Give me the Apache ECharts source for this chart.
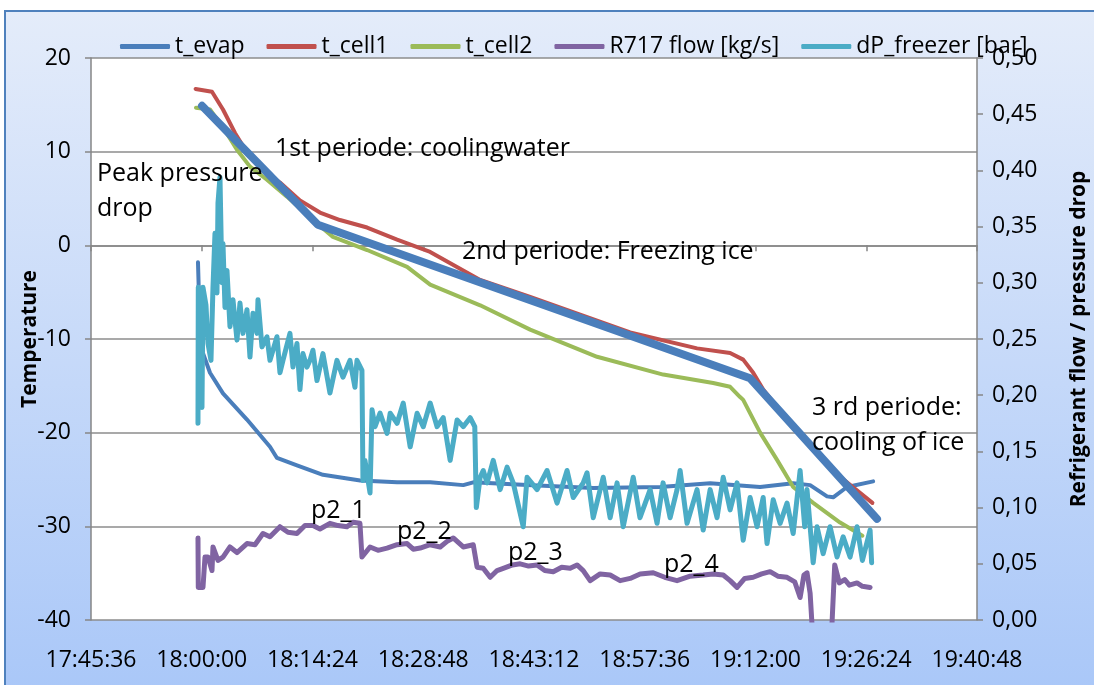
<!DOCTYPE html>
<html>
<head>
<meta charset="utf-8">
<script src="https://cdn.jsdelivr.net/npm/echarts@6/dist/echarts.min.js"></script>
<style>
  html, body { margin: 0; padding: 0; background: #fff; }
  #frame {
    position: absolute; left: 4px; top: 10px; width: 1100px; height: 690px;
    border: 2px solid #4F81BD; box-sizing: border-box;
    background: linear-gradient(to bottom, #E4ECFA 0%, #A9C7F8 100%);
  }
  #chart { position: absolute; left: 0; top: 0; width: 1094px; height: 685px; }
</style>
</head>
<body>
<div id="frame"></div>
<div id="chart"></div>
<script>
// time is minutes after 18:00:00
const evapMin = [-0.49, -0.35, -0.1, 0.16, 1.07, 2.76, 5.88, 8.87, 9.78, 12.38, 15.76, 20.6, 25.4, 29.7, 34.0, 35.3, 42.3, 50.9, 59.6, 66.1, 72.6, 76.9, 79.1, 81.3, 82.1, 83.9, 87.3];
const evapVal = [-1.8, -5.8, -10.1, -11.5, -13.6, -15.8, -18.6, -21.5, -22.7, -23.5, -24.5, -25.1, -25.3, -25.3, -25.6, -25.3, -25.6, -25.9, -25.8, -25.4, -25.8, -25.4, -25.6, -26.8, -26.9, -25.8, -25.2];

const cell1Min = [-0.8, 1.33, 2.76, 4.32, 5.88, 7.96, 10.17, 12.77, 15.37, 17.97, 21.5, 25.4, 29.7, 36.2, 42.7, 49.2, 55.7, 64.4, 68.7, 70.4, 71.7, 73.0, 76.1, 79.1, 83.0, 87.2];
const cell1Val = [16.7, 16.4, 14.5, 12.0, 9.9, 8.0, 6.7, 4.8, 3.5, 2.7, 1.9, 0.6, -0.7, -3.7, -5.5, -7.4, -9.3, -11.0, -11.5, -12.2, -13.6, -15.4, -18.6, -21.1, -24.7, -27.5];

const cell2Min = [-0.75, 1.07, 2.76, 4.58, 6.27, 8.48, 11.08, 14.46, 17.06, 21.5, 26.7, 29.7, 36.2, 42.7, 51.4, 60.0, 66.5, 68.7, 70.0, 70.4, 72.6, 74.8, 76.9, 79.5, 83.0, 85.9];
const cell2Val = [14.7, 14.5, 12.6, 10.2, 8.4, 7.0, 5.2, 2.7, 0.9, -0.5, -2.3, -4.2, -6.4, -9.0, -11.9, -13.8, -14.7, -15.1, -16.2, -16.5, -20.0, -22.9, -25.8, -27.5, -29.6, -31.0];

// straight thick guide line drawn over the temperatures
const trendMin = [0.03, 15.1, 71.3, 87.8];
const trendVal = [14.9, 2.2, -14.2, -29.2];

const flowMin = [-0.49, -0.45, 0.16, 0.42, 0.81, 1.33, 1.46, 2.11, 2.76, 3.67, 4.58, 5.88, 6.92, 7.96, 8.87, 10.17, 11.21, 12.38, 13.42, 14.46, 15.37, 16.67, 17.71, 18.88, 19.66, 20.57, 20.83, 21.88, 22.92, 24.09, 25.4, 26.7, 27.5, 28.4, 29.7, 31.0, 31.9, 32.7, 34.0, 35.3, 35.8, 36.6, 37.5, 38.4, 39.2, 40.4, 41.4, 42.5, 43.6, 44.6, 45.7, 46.8, 47.9, 48.8, 49.6, 50.5, 51.8, 53.1, 54.4, 55.7, 57.0, 58.7, 60.2, 61.8, 63.5, 65.2, 66.5, 67.8, 68.7, 69.6, 70.6, 71.7, 72.8, 73.9, 74.9, 76.1, 77.1, 77.8, 78.3, 78.7, 79.1, 79.4, 81.9, 82.3, 82.9, 83.6, 84.2, 85.2, 85.9, 86.9];
const flowVal = [0.073, 0.029, 0.029, 0.056, 0.056, 0.044, 0.065, 0.053, 0.056, 0.065, 0.060, 0.068, 0.067, 0.077, 0.074, 0.083, 0.078, 0.077, 0.084, 0.084, 0.081, 0.086, 0.084, 0.083, 0.087, 0.086, 0.056, 0.065, 0.062, 0.064, 0.067, 0.068, 0.063, 0.064, 0.067, 0.065, 0.070, 0.073, 0.065, 0.067, 0.047, 0.046, 0.038, 0.044, 0.046, 0.049, 0.050, 0.048, 0.049, 0.044, 0.043, 0.047, 0.046, 0.049, 0.044, 0.035, 0.041, 0.040, 0.035, 0.037, 0.041, 0.042, 0.038, 0.035, 0.039, 0.040, 0.041, 0.040, 0.035, 0.029, 0.037, 0.038, 0.041, 0.043, 0.039, 0.038, 0.034, 0.020, 0.040, 0.042, 0.024, -0.01, -0.01, 0.049, 0.033, 0.036, 0.031, 0.033, 0.030, 0.029];

const dpMin = [-0.49, -0.45, 0.03, 0.16, 0.55, 0.81, 1.20, 1.46, 1.72, 1.98, 2.11, 2.37, 2.63, 2.76, 3.02, 3.28, 3.67, 4.06, 4.58, 4.97, 5.36, 5.88, 6.27, 6.66, 7.18, 7.31, 7.83, 8.48, 8.87, 9.78, 10.17, 10.56, 11.47, 11.86, 12.38, 12.77, 13.16, 13.68, 14.07, 14.46, 14.98, 15.76, 16.67, 17.58, 18.36, 19.27, 19.92, 20.18, 20.83, 20.96, 21.22, 21.88, 22.14, 22.53, 23.18, 24.09, 24.5, 25.4, 26.2, 27.1, 28.0, 28.8, 29.7, 30.6, 31.4, 32.3, 33.2, 34.0, 34.9, 35.5, 35.7, 36.2, 36.6, 37.1, 37.9, 38.8, 39.7, 40.5, 41.8, 42.3, 43.6, 44.9, 46.2, 47.5, 48.3, 49.6, 50.1, 50.9, 52.2, 53.1, 54.0, 54.8, 56.1, 56.98, 58.3, 59.2, 59.98, 60.9, 61.8, 62.2, 63.1, 64.4, 65.2, 66.1, 67.0, 67.8, 68.7, 69.6, 70.4, 71.3, 72.2, 73.0, 73.5, 74.3, 75.2, 76.1, 76.9, 77.8, 78.4, 78.7, 79.5, 80.0, 80.8, 81.7, 82.6, 83.4, 84.3, 85.2, 85.9, 86.9, 87.1];
const dpVal = [0.175, 0.296, 0.189, 0.296, 0.280, 0.246, 0.231, 0.296, 0.344, 0.291, 0.371, 0.394, 0.300, 0.335, 0.278, 0.311, 0.261, 0.285, 0.249, 0.282, 0.255, 0.276, 0.234, 0.273, 0.255, 0.285, 0.243, 0.252, 0.231, 0.252, 0.220, 0.231, 0.255, 0.225, 0.246, 0.205, 0.237, 0.225, 0.231, 0.240, 0.213, 0.237, 0.202, 0.231, 0.216, 0.231, 0.207, 0.231, 0.222, 0.124, 0.142, 0.113, 0.187, 0.172, 0.184, 0.166, 0.184, 0.175, 0.193, 0.154, 0.184, 0.172, 0.193, 0.172, 0.180, 0.142, 0.178, 0.172, 0.180, 0.172, 0.100, 0.127, 0.133, 0.122, 0.142, 0.116, 0.136, 0.122, 0.083, 0.127, 0.116, 0.133, 0.104, 0.133, 0.109, 0.122, 0.131, 0.091, 0.127, 0.091, 0.122, 0.083, 0.127, 0.091, 0.116, 0.086, 0.122, 0.091, 0.116, 0.133, 0.086, 0.116, 0.080, 0.116, 0.091, 0.127, 0.098, 0.122, 0.071, 0.109, 0.083, 0.109, 0.068, 0.107, 0.086, 0.104, 0.077, 0.133, 0.083, 0.116, 0.051, 0.083, 0.059, 0.083, 0.056, 0.074, 0.056, 0.083, 0.053, 0.080, 0.051];

const seriesNames = ['t_evap', 't_cell1', 't_cell2', 'R717 flow [kg/s]', 'dP_freezer [bar]'];
const xStart = 63936;   // 17:45:36
const xEnd = 70848;     // 19:40:48
const xStep = 864;      // 0:14:24

const FONT = '"Open Sans", "Noto Sans", sans-serif';

function pts(mins, vals) {
  return mins.map((m, i) => [64800 + m * 60, vals[i]]);
}
function hms(s) {
  const h = Math.floor(s / 3600), m = Math.floor((s % 3600) / 60), sec = Math.round(s % 60);
  return h + ':' + String(m).padStart(2, '0') + ':' + String(sec).padStart(2, '0');
}
function lineSeries(name, data, color, width, yIdx) {
  return {
    name: name, type: 'line', data: data, yAxisIndex: yIdx || 0,
    showSymbol: false, symbol: 'none', smooth: false,
    lineStyle: { color: color, width: width, cap: 'round', join: 'round' },
    itemStyle: { color: color }
  };
}
function txt(x, y, s) {
  return { type: 'text', left: x, top: y, style: { text: s, font: '25px ' + FONT, fill: '#000' }, z: 50 };
}

var myChart = echarts.init(document.getElementById('chart'));
var option = {
  animation: false,
  backgroundColor: 'transparent',
  textStyle: { fontFamily: FONT },
  grid: { left: 91, right: 117, top: 58, bottom: 65, show: true, backgroundColor: '#fff', borderWidth: 0,
    containLabel: false, outerBoundsMode: 'none' },
  legend: {
    data: seriesNames,
    left: 115, top: 30,
    icon: 'roundRect', itemWidth: 50, itemHeight: 5, itemGap: 22,
    textStyle: { fontSize: 23, color: '#000', fontFamily: FONT }
  },
  xAxis: {
    type: 'value', min: xStart, max: xEnd, interval: xStep,
    axisLine: { show: true, lineStyle: { color: '#868686', width: 1.5 } },
    axisTick: { show: true, length: 6, lineStyle: { color: '#868686', width: 1.5 } },
    splitLine: { show: false },
    axisLabel: { formatter: hms, fontSize: 23, color: '#000', margin: 29, fontFamily: FONT,
      showMinLabel: true, showMaxLabel: true, hideOverlap: false }
  },
  yAxis: [
    {
      type: 'value', min: -40, max: 20, interval: 10,
      name: 'Temperature', nameLocation: 'middle', nameGap: 50, nameRotate: 90, nameMoveOverlap: false,
      nameTextStyle: { fontSize: 21, fontWeight: 'bold', color: '#000', fontFamily: FONT },
      axisLine: { show: true, lineStyle: { color: '#868686', width: 1.5 } },
      axisTick: { show: true, length: 6, lineStyle: { color: '#868686', width: 1.5 } },
      splitLine: { show: true, lineStyle: { color: '#8c8c8c', width: 1.5 } },
      axisLabel: { fontSize: 23, color: '#000', margin: 20, fontFamily: FONT }
    },
    {
      type: 'value', position: 'right', min: 0, max: 0.5, interval: 0.05,
      name: 'Refrigerant flow / pressure drop', nameLocation: 'middle', nameGap: 92, nameRotate: 90, nameMoveOverlap: false,
      nameTextStyle: { fontSize: 21, fontWeight: 'bold', color: '#000', fontFamily: FONT },
      axisLine: { show: true, lineStyle: { color: '#868686', width: 1.5 } },
      axisTick: { show: true, length: 6, lineStyle: { color: '#868686', width: 1.5 } },
      splitLine: { show: false },
      axisLabel: { fontSize: 23, color: '#000', margin: 15, fontFamily: FONT,
        formatter: v => v.toFixed(2).replace('.', ',') }
    }
  ],
  series: [
    lineSeries('t_evap', pts(evapMin, evapVal), '#4A7EBB', 4),
    lineSeries('t_cell1', pts(cell1Min, cell1Val), '#C0504D', 4),
    lineSeries('t_cell2', pts(cell2Min, cell2Val), '#9BBB59', 4),
    lineSeries('R717 flow [kg/s]', pts(flowMin, flowVal), '#8064A2', 5, 1),
    lineSeries('dP_freezer [bar]', pts(dpMin, dpVal), '#4BACC6', 5, 1),
    lineSeries('trend', pts(trendMin, trendVal), '#4A7EBB', 8)
  ],
  graphic: [
    txt(97, 161, 'Peak pressure'),
    txt(97, 196, 'drop'),
    txt(275, 136, '1st periode: coolingwater'),
    txt(462, 239, '2nd periode: Freezing ice'),
    txt(812, 395, '3 rd periode:'),
    txt(812, 430, 'cooling of ice'),
    txt(311, 498, 'p2_1'),
    txt(397, 519, 'p2_2'),
    txt(508, 540, 'p2_3'),
    txt(664, 552, 'p2_4')
  ]
};
myChart.setOption(option);
</script>
</body>
</html>
